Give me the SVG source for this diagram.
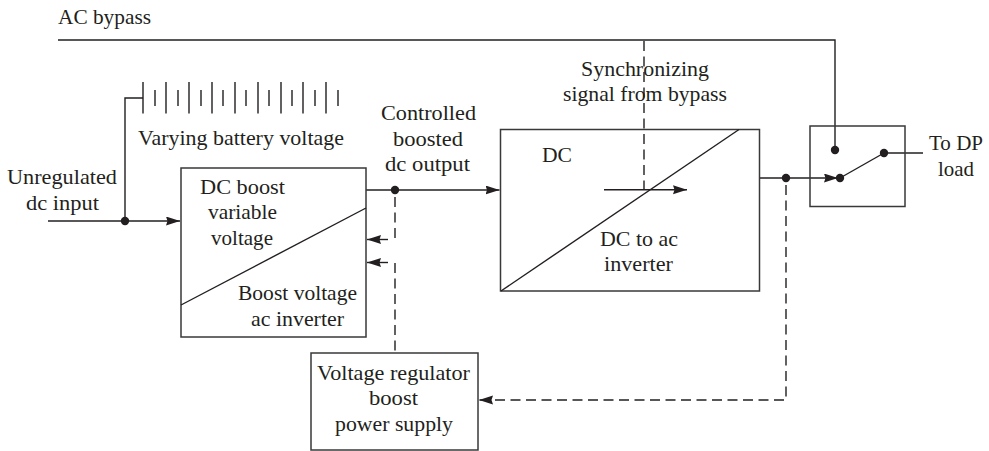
<svg xmlns="http://www.w3.org/2000/svg" width="989" height="451" viewBox="0 0 989 451">
<style>
.box{fill:none;stroke:#3a3839;stroke-width:1.5}
.ln{fill:none;stroke:#231f20;stroke-width:1.4}
.dash{fill:none;stroke:#231f20;stroke-width:1.4;stroke-dasharray:10 5.5}
.dot{fill:#231f20}
text{font-family:"Liberation Serif","Times New Roman",serif;font-size:21px;fill:#231f20}
</style>
<defs>
<marker id="arr" markerUnits="userSpaceOnUse" markerWidth="15" markerHeight="11" refX="14" refY="4.500" orient="auto"><path d="M0 0L14 4.500L0 9L1.500 4.500Z" fill="#231f20"/></marker>
</defs>
<rect width="989" height="451" fill="#fff"/>
<g id="connectors">
<path class="ln" d="M58 40H835V150"/>
<path class="ln" d="M48 221H180" marker-end="url(#arr)"/>
<path class="ln" d="M125 221V98H143"/>
<path class="ln" d="M366 190H499.500" marker-end="url(#arr)"/>
<path class="dash" d="M395 197V240"/>
<path class="dash" d="M395 263V353"/>
<path class="ln" d="M388 239.500H367" marker-end="url(#arr)"/>
<path class="ln" d="M388 262.500H367" marker-end="url(#arr)"/>
<path class="dash" d="M644 41V189"/>
<path class="ln" d="M760 178H838" marker-end="url(#arr)"/>
<path class="ln" d="M840 178L884 153"/>
<path class="ln" d="M884 153H923"/>
<path class="dash" d="M786 185V400H479" marker-end="url(#arr)"/>
</g>
<g id="battery">
<path class="ln" d="M143 82V113.500M166 82V113.500M189 82V113.500M212 82V113.500M235 82V113.500M258 82V113.500M281 82V113.500M303 82V113.500M326 82V113.500"/>
<path class="ln" d="M155 90V106M178 90V106M201 90V106M223 90V106M246 90V106M269 90V106M292 90V106M315 90V106M338 90V106"/>
<text x="138" y="145" textLength="206" lengthAdjust="spacingAndGlyphs">Varying battery voltage</text>
</g>
<g id="junctions">
<circle class="dot" cx="125" cy="221" r="4.200"/>
<circle class="dot" cx="395" cy="190" r="4.200"/>
<circle class="dot" cx="786" cy="178" r="4.200"/>
</g>
<g id="boost">
<rect class="box" x="181" y="168" width="185" height="169"/>
<path class="ln" d="M181 305L366 208"/>
<text x="200" y="194" textLength="85" lengthAdjust="spacingAndGlyphs">DC boost</text>
<text x="208" y="219" textLength="69" lengthAdjust="spacingAndGlyphs">variable</text>
<text x="211" y="245" textLength="62" lengthAdjust="spacingAndGlyphs">voltage</text>
<text x="238" y="300" textLength="119" lengthAdjust="spacingAndGlyphs">Boost voltage</text>
<text x="251" y="326" textLength="93" lengthAdjust="spacingAndGlyphs">ac inverter</text>
</g>
<g id="inverter">
<rect class="box" x="500.500" y="129.500" width="259" height="161.500"/>
<path class="ln" d="M501 291L739 129.500"/>
<path class="ln" d="M604 189.800H687" marker-end="url(#arr)"/>
<text x="542" y="162" textLength="30" lengthAdjust="spacingAndGlyphs">DC</text>
<text x="600" y="246" textLength="78" lengthAdjust="spacingAndGlyphs">DC to ac</text>
<text x="604" y="271" textLength="69" lengthAdjust="spacingAndGlyphs">inverter</text>
</g>
<g id="switch">
<rect class="box" x="810" y="126" width="95" height="80.500"/>
<circle class="dot" cx="835" cy="150" r="4.200"/>
<circle class="dot" cx="840" cy="178" r="4.200"/>
<circle class="dot" cx="884" cy="153" r="4.200"/>
</g>
<g id="regulator">
<rect class="box" x="311" y="353" width="167" height="97"/>
<text x="317" y="380" textLength="153" lengthAdjust="spacingAndGlyphs">Voltage regulator</text>
<text x="369" y="405" textLength="49" lengthAdjust="spacingAndGlyphs">boost</text>
<text x="335" y="431" textLength="118" lengthAdjust="spacingAndGlyphs">power supply</text>
</g>
<g id="labels">
<text x="58" y="24" textLength="93" lengthAdjust="spacingAndGlyphs">AC bypass</text>
<text x="7" y="184" textLength="110" lengthAdjust="spacingAndGlyphs">Unregulated</text>
<text x="26" y="210" textLength="73" lengthAdjust="spacingAndGlyphs">dc input</text>
<text x="381" y="120" textLength="95" lengthAdjust="spacingAndGlyphs">Controlled</text>
<text x="393" y="146" textLength="70" lengthAdjust="spacingAndGlyphs">boosted</text>
<text x="385" y="171" textLength="85" lengthAdjust="spacingAndGlyphs">dc output</text>
<text x="581" y="76" textLength="128" lengthAdjust="spacingAndGlyphs">Synchronizing</text>
<text x="563" y="101" textLength="164" lengthAdjust="spacingAndGlyphs">signal from bypass</text>
<text x="929" y="150" textLength="54" lengthAdjust="spacingAndGlyphs">To DP</text>
<text x="938" y="176" textLength="36" lengthAdjust="spacingAndGlyphs">load</text>
</g>
</svg>
